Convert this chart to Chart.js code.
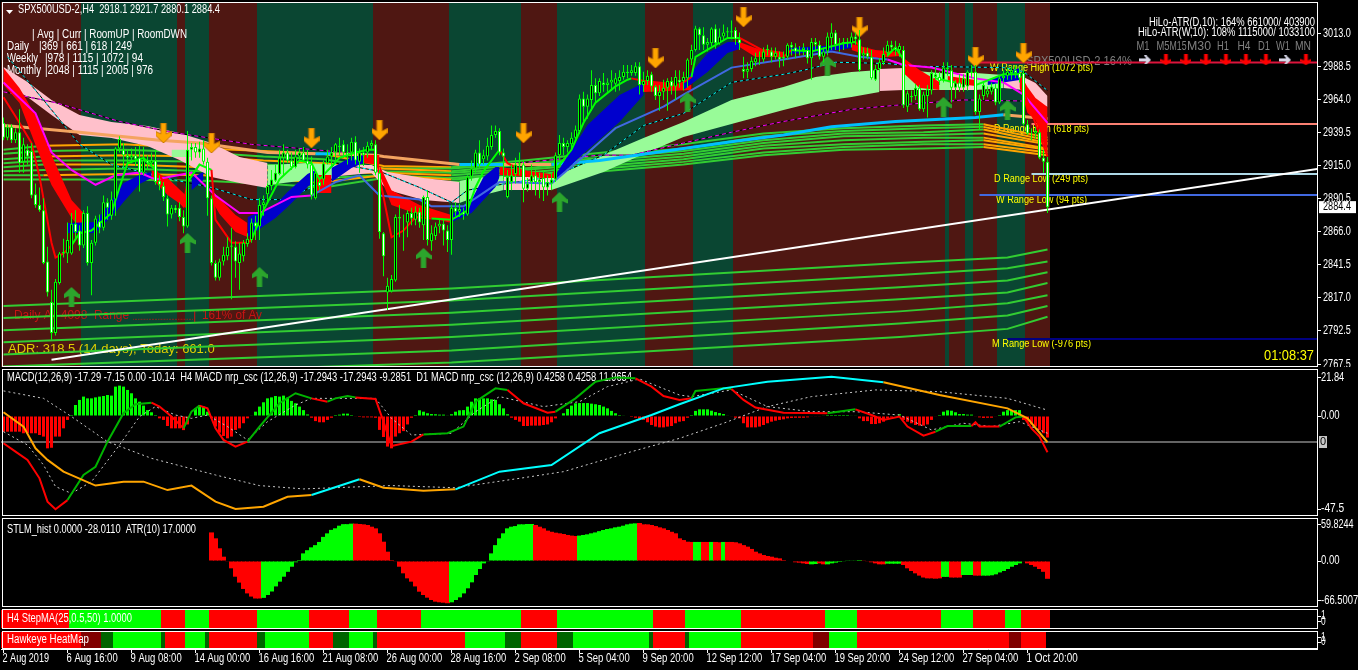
<!DOCTYPE html>
<html><head><meta charset="utf-8"><title>SPX500USD-2,H4</title>
<style>html,body{margin:0;padding:0;background:#000;overflow:hidden;width:1358px;height:670px}canvas{position:absolute;left:0}</style>
<script src="https://cdn.jsdelivr.net/npm/chart.js@4/dist/chart.umd.js"></script>
</head><body>
<script>
// ---------- candles (4h bars) ----------
const opens=[2947,2936,2944,2934,2940,2918,2927,2926,2894,2886,2882,2844,2814,2791,2828,2850,2850,2850,2872,2867,2856,2880,2843,2858,2874,2869,2888,2878,2890,2928,2927,2923,2921,2923,2921,2910,2919,2917,2919,2904,2900,2891,2879,2884,2884,2877,2870,2927,2929,2925,2928,2918,2891,2843,2832,2844,2848,2855,2855,2843,2848,2857,2860,2873,2870,2886,2894,2900,2904,2909,2921,2925,2919,2914,2922,2925,2919,2916,2891,2903,2905,2917,2922,2925,2929,2931,2925,2925,2933,2918,2925,2925,2930,2931,2910,2865,2821,2822,2830,2877,2873,2873,2880,2875,2881,2871,2892,2859,2863,2870,2872,2867,2860,2884,2881,2881,2879,2907,2913,2925,2920,2922,2929,2938,2941,2925,2892,2903,2909,2916,2916,2898,2903,2908,2903,2906,2899,2902,2905,2923,2932,2929,2931,2936,2941,2965,2959,2964,2975,2969,2977,2975,2977,2976,2978,2981,2985,2984,2984,2989,2975,2978,2983,2974,2967,2970,2973,2978,2974,2979,2978,2980,2994,3001,3017,3012,3005,3006,3017,3006,3011,3015,3014,3016,3009,2987,2985,2987,2992,2995,2994,3001,3000,2996,2996,2995,2996,3005,3003,3000,3001,3001,2995,3007,3005,2996,3000,3010,3014,3005,3006,3007,3006,3011,3009,2997,2999,2996,2979,2987,2992,2999,3005,3003,3001,3001,2959,2967,2967,2973,2957,2967,2971,2981,2981,2979,2988,2986,2973,2977,2973,2974,2985,2985,2955,2967,2968,2970,2973,2962,2980,2982,2984,2986,2984,2984,2946,2939,2939,2940,2921,2918.1];
const highs=[2951,2946,2946,2943,2957,2936,2931,2932,2902,2899,2891,2855,2823,2831,2851,2861,2873,2880,2882,2871,2882,2885,2860,2878,2879,2893,2891,2896,2929,2937,2932,2927,2928,2929,2930,2929,2923,2925,2927,2908,2903,2893,2886,2886,2888,2882,2941,2932,2932,2933,2934,2921,2893,2845,2846,2855,2862,2869,2859,2858,2860,2865,2876,2878,2891,2893,2902,2912,2916,2927,2931,2927,2925,2927,2928,2929,2927,2922,2911,2906,2919,2927,2929,2932,2936,2934,2931,2936,2937,2928,2929,2933,2934,2934,2912,2866,2832,2834,2879,2886,2879,2882,2884,2885,2884,2893,2897,2871,2873,2875,2875,2871,2886,2888,2887,2884,2908,2919,2927,2934,2927,2936,2945,2945,2943,2928,2912,2916,2921,2925,2919,2906,2916,2912,2910,2912,2908,2910,2925,2938,2936,2934,2940,2945,2968,2970,2968,2986,2980,2980,2984,2980,2986,2984,2986,2990,2990,2990,2992,2992,2985,2986,2985,2975,2975,2979,2980,2981,2986,2986,2985,2995,3005,3019,3018,3018,3010,3018,3020,3017,3020,3018,3023,3018,3014,2996,2992,2996,2999,3000,3003,3005,3003,3003,3000,3000,3006,3007,3006,3004,3006,3003,3010,3010,3008,3003,3014,3021,3016,3010,3010,3010,3014,3014,3016,3003,3003,3001,2990,2995,3003,3008,3008,3008,3006,3004,2971,2971,2976,2975,2970,2975,2986,2988,2985,2992,2992,2990,2979,2983,2983,2986,2990,2990,2968,2978,2974,2977,2976,2982,2986,2988,2989,2990,2988,2986,2949,2943,2944,2942,2927,2921.7];
const lows=[2934,2934,2932,2932,2910,2910,2916,2891,2884,2881,2842,2818,2786,2789,2827,2847,2843,2849,2861,2852,2854,2841,2819,2856,2865,2867,2875,2875,2878,2925,2913,2917,2917,2915,2896,2908,2912,2915,2901,2897,2889,2870,2876,2880,2874,2865,2869,2919,2921,2921,2916,2878,2841,2830,2830,2841,2845,2816,2832,2823,2844,2855,2858,2860,2860,2878,2889,2897,2903,2908,2908,2917,2912,2913,2919,2918,2913,2890,2890,2897,2901,2916,2915,2919,2923,2921,2916,2919,2916,2910,2915,2921,2927,2908,2861,2833,2808,2821,2829,2862,2852,2862,2871,2871,2869,2860,2856,2852,2860,2865,2856,2851,2849,2878,2877,2875,2878,2904,2910,2913,2916,2919,2927,2936,2923,2905,2891,2897,2902,2908,2888,2896,2897,2893,2891,2889,2893,2897,2903,2919,2923,2925,2927,2933,2939,2948,2950,2956,2962,2967,2970,2970,2971,2970,2971,2979,2980,2982,2982,2968,2970,2975,2970,2964,2956,2964,2956,2968,2964,2973,2971,2973,2990,3000,3001,3001,3000,3004,3002,3005,3008,3010,3009,3005,3001,2980,2980,2985,2989,2990,2992,2997,2992,2994,2988,2989,2994,2997,2995,2997,2997,2991,2979,3001,2994,2992,2997,3001,3001,3000,3001,3003,3003,3005,2985,2994,2994,2979,2978,2985,2990,2996,2999,2997,2996,2958,2955,2962,2964,2956,2955,2951,2968,2979,2975,2977,2982,2962,2965,2970,2970,2971,2980,2953,2942,2964,2966,2968,2960,2961,2977,2979,2979,2980,2977,2945,2938,2934,2935,2920,2910,2880.1];
const closes=[2936,2944,2934,2940,2917,2931,2922,2893,2886,2882,2843,2821,2791,2829,2850,2851,2860,2872,2866,2856,2880,2843,2858,2876,2869,2888,2884,2890,2928,2935,2923,2921,2923,2920,2910,2919,2917,2919,2903,2901,2892,2879,2884,2882,2877,2870,2927,2929,2925,2928,2918,2891,2843,2832,2844,2849,2855,2856,2844,2850,2858,2861,2873,2870,2886,2888,2900,2905,2910,2921,2925,2919,2914,2922,2925,2919,2916,2893,2910,2900,2917,2922,2925,2931,2930,2925,2923,2933,2919,2925,2923,2930,2932,2910,2866,2848,2826,2831,2877,2876,2873,2880,2876,2881,2873,2892,2860,2865,2870,2872,2867,2860,2884,2881,2883,2879,2907,2913,2925,2916,2923,2930,2938,2941,2925,2922,2907,2908,2916,2917,2898,2902,2908,2903,2905,2899,2903,2905,2923,2932,2929,2932,2936,2942,2965,2959,2965,2975,2969,2978,2975,2977,2979,2980,2981,2985,2984,2986,2989,2975,2978,2982,2974,2967,2970,2973,2978,2974,2981,2977,2981,2994,3001,3017,3012,3005,3007,3017,3006,3011,3014,3014,3015,3009,3006,2985,2987,2993,2995,2995,3000,3002,2996,2999,2994,2996,3005,3003,3000,3001,3003,2995,3007,3005,2996,3000,3011,3014,3005,3006,3007,3006,3011,3009,2986,2999,2996,2980,2987,2992,2998,3005,3003,3001,3004,2960,2969,2966,2973,2957,2968,2972,2984,2983,2978,2988,2987,2973,2977,2973,2980,2985,2984,2955,2965,2975,2971,2974,2962,2980,2982,2985,2986,2984,2980,2946,2939,2939,2941,2921,2918,2884.4];
// background regimes: first bar of each run
const regimeStarts=[0,20,44,46,52,64,93,112,130,139,161,173,183,236,237,241,243,249,256];
const regimeKinds=['r','g','r','g','r','g','r','g','r','g','r','g','r','g','r','g','r','g','r'];
// slow fan (8 lines)
const fanIdx=[0,10,30,50,65,80,95,112,130,150,170,190,210,230,245,261];
const fan1=[2927,2930,2931,2928,2926,2924,2915,2914,2919,2925,2931,2939,2943,2945,2946,2936];
const fan2=[2924,2926,2927,2925,2922,2920,2913,2913,2917,2923,2928,2937,2941,2943,2944,2934];
const fan3=[2920,2922,2923,2922,2919,2917,2913,2911,2916,2921,2926,2934,2939,2940,2942,2932];
const fan4=[2917,2919,2919,2918,2916,2913,2911,2910,2913,2919,2924,2932,2937,2938,2939,2931];
const fan5=[2914,2916,2916,2914,2912,2910,2910,2908,2912,2917,2922,2930,2934,2936,2936,2928];
const fan6=[2911,2912,2913,2911,2908,2906,2908,2906,2910,2915,2920,2928,2931,2933,2934,2927];
const fan7=[2908,2908,2909,2908,2905,2903,2908,2905,2908,2913,2918,2925,2929,2931,2931,2925];
const fan8=[2905,2905,2905,2904,2902,2899,2906,2903,2906,2911,2916,2923,2927,2928,2929,2923];
// lower fan (7 lines)
const lowFanIdx=[0,112,224,251,261];
const low1=[2811,2824,2843,2847,2853];
const low2=[2802,2815,2834,2839,2844];
const low3=[2793,2806,2825,2830,2836];
const low4=[2784,2797,2816,2821,2828];
const low5=[2775,2788,2807,2813,2819];
const low6=[2766,2778,2798,2804,2811];
const low7=[2758,2769,2788,2794,2803];
// trend line and range levels
const trendIdx=[12,329], trendVal=[2771,2913];
const levelNames=['W Range High','D Range High','D Range Low','W Range Low','M Range Low'];
const levelStart=[243,257,257,244,251];
const levelVal=[2991.7,2946.1,2909,2893.4,2786.5];
// pink / light-green cloud segments
const cloudA_I=[0,6,12,19,27,36,44,52,59,66], cloudA_H=[2988.5,2977.3,2964,2952.8,2947.6,2944.7,2939.5,2932,2921.6,2917.2], cloudA_L=[2976.6,2966.2,2952.8,2938,2935.8,2929.8,2919.4,2906.8,2902.3,2898.6];
const cloudB_I=[66,76,84], cloudB_H=[2915.7,2917.2,2915.7], cloudB_L=[2900.9,2904.6,2906];
const cloudC_I=[84,92,96,105,114], cloudC_H=[2915.7,2915.7,2910.5,2906,2903], cloudC_L=[2907.5,2909.8,2897.1,2889.7,2887.5];
const cloudD_I=[114,118,125], cloudD_H=[2903.8,2906,2907.5], cloudD_L=[2887.5,2892,2897.1];
const cloudE_I=[125,137], cloudE_H=[2906.8,2906.8], cloudE_L=[2897.1,2897.1];
const cloudF_I=[137,150,160,170,182,195,203,212,219], cloudF_H=[2906,2923.1,2935.8,2947.6,2964,2973.6,2981,2984.8,2986.2], cloudF_L=[2897.1,2910.5,2923.9,2936.5,2946.1,2956.5,2962.5,2966.2,2969.9];
const cloudG_I=[219,225], cloudG_H=[2987,2987.7], cloudG_L=[2970.6,2971.4];
const cloudH_I=[225,237], cloudH_H=[2986.2,2983.3], cloudH_L=[2971.4,2971.4];
const cloudJ_I=[237,243], cloudJ_H=[2984,2984], cloudJ_L=[2971.4,2971.4];
const cloudK_I=[243,250], cloudK_H=[2984,2982.5], cloudK_L=[2971.4,2972.9];
const cloudM_I=[250,255,258,261], cloudM_H=[2983.3,2981,2976.6,2966.9], cloudM_L=[2972.9,2971.4,2961.7,2958.8];
const cloudN_I=[42,47], cloudN_H=[2927,2927], cloudN_L=[2921.6,2921.6];
// fast ribbon segments
const red1_I=[0,4,8,12,17,20], red1_H=[2987.7,2972.9,2952.8,2923.1,2889.7,2880.1], red1_L=[2975,2961.7,2930.6,2900.9,2876.4,2866];
const blue1_I=[16,23,28,30,34,37], blue1_H=[2872.6,2873.4,2893.4,2902.3,2908.3,2910.5], blue1_L=[2865.2,2865.2,2880.8,2888.2,2901.6,2906];
const red2_I=[37,41,46], red2_H=[2912,2906,2892], red2_L=[2906,2893.4,2883];
const blue2_I=[47,50], blue2_H=[2906,2910.5], blue2_L=[2897,2904.6];
const red3_I=[52,54,58,61], red3_H=[2897,2891,2878.6,2872.6], red3_L=[2889.7,2879.3,2866,2862.3];
const blue3_I=[61,68,71,76,78], blue3_H=[2877,2886,2895.7,2909,2912], blue3_L=[2862.3,2876.4,2884.5,2899.4,2904.6];
const redS_I=[78,82], redS_H=[2908.3,2908.3], redS_L=[2894.9,2894.9];
const blue3b_I=[82,87,90], blue3b_H=[2913.5,2921.6,2923.1], blue3b_L=[2903,2913.5,2917.2];
const redT_I=[90,94], redT_H=[2923.1,2923.1], redT_L=[2917.2,2915.7];
const red4_I=[94,97,104,112], red4_H=[2915.7,2897,2886,2878.6], red4_L=[2908.3,2886,2878.6,2872.6];
const blue4_I=[112,117,120,123,124], blue4_H=[2878.6,2889.7,2906.8,2914.2,2914.2], blue4_L=[2873.4,2880.1,2889.7,2899.4,2906.8];
const red5_I=[124,135,138], red5_H=[2914.2,2909.8,2908.3], red5_L=[2908.3,2906,2906];
const blue5_I=[138,146,154,160], blue5_H=[2908.3,2945.4,2967.7,2976.6], blue5_L=[2904.6,2926.8,2947.6,2967.7];
const red6_I=[160,172], red6_H=[2978.8,2975], red6_L=[2969.9,2971.4];
const blue6_I=[170,176,181,184], blue6_H=[2977.3,2998.9,3007,3007], blue6_L=[2971.4,2984.8,2998.9,3001.8];
const red7_I=[184,188,195], red7_H=[3007,3002.6,2999.6], red7_L=[3003.3,2995.9,2995.9];
const blue7_I=[196,205,212], blue7_H=[3002.6,3004,3006.3], blue7_L=[2998,2999.6,3002.6];
const red8_I=[212,218,224], red8_H=[3005.5,3001,2999.6], red8_L=[3001,2995.1,2996.6];
const red9_I=[225,229,234], red9_H=[2995.1,2986.2,2977.3], red9_L=[2984,2972.9,2971.4];
const red10_I=[236,243], red10_H=[2981.8,2978.8], red10_L=[2977.3,2975];
const blue8_I=[246,254], blue8_H=[2978.8,2987.7], blue8_L=[2975,2978.8];
const red11_I=[254,256,258,261], red11_H=[2984,2973.6,2965.4,2958.8], red11_L=[2973.6,2954.3,2949.1,2923.1];
// moving averages
const fastIdx=[0,4,7,9,12,13,15,17,19,22,27,29,31,35,38,41,45,46,49,52,53,57,61,62,65,69,74,77,79,84,88,91,93,94,97,100,103,107,112,116,118,120,124,126,130,137,138,142,145,148,153,156,157,162,167,170,172,173,177,181,184,191,195,197,202,206,210,213,215,219,221,223,225,228,231,233,238,243,250,254,255,261];
const fastVal=[2966,2947,2932,2907,2858,2847,2850,2856,2865,2867,2880,2899,2917,2921,2912,2899,2885,2903,2916,2912,2875,2858,2858,2860,2882,2905,2919,2917,2905,2921,2925,2927,2927,2907,2862,2867,2877,2876,2875,2882,2899,2911,2927,2917,2911,2907,2912,2927,2947,2962,2974,2979,2980,2977,2973,2977,2981,2996,3003,3010,3010,2999,2996,3001,3000,3003,3006,3007,3001,2996,2997,3003,2994,2981,2973,2980,2977,2975,2983,2983,2971,2922];
const fastRuns=[[0,'#ff0000'],[17,'#00ff00'],[38,'#ff0000'],[46,'#00ff00'],[52,'#ff0000'],[62,'#00ff00'],[93,'#ff0000'],[107,'#00ff00'],[124,'#ff0000'],[138,'#00ff00'],[157,'#ff0000'],[172,'#00ff00'],[184,'#ff0000'],[197,'#00ff00'],[213,'#ff0000'],[221,'#00ff00'],[225,'#ff0000'],[233,'#00ff00'],[238,'#ff0000'],[243,'#00ff00'],[254,'#ff0000']];
const midIdx=[0,8,12,17,23,28,34,38,47,53,59,64,72,77,83,89,94,104,107,115,124,137,145,153,165,170,182,195,207,214,221,225,232,243,250,255,261];
const midVal=[2977,2954,2925,2912,2901,2908,2910,2905,2910,2893,2880,2880,2892,2893,2903,2908,2893,2890,2885,2885,2903,2902,2922,2943,2959,2968,2988,2994,3000,2996,2994,2990,2988,2980,2977,2968,2947];
const midRuns=[[0,'#ff00ff'],[77,'#4169e1'],[221,'#ff00ff']];
const dashCyanIdx=[1,10,19,27,42,52,62,70,77,83,94,104,112,116,126,137,150,160,170,182,195,200,208,221,228,250,255,261];
const dashCyanVal=[2996,2964,2931,2916,2905,2899,2890,2890,2899,2917,2911,2899,2888,2897,2902,2907,2923,2945,2954,2977,2983,2986,2992,2991,2989,2988,2985,2971];
const dashMagIdx=[0,13,29,42,62,78,99,111,125,149,157,170,182,195,212,223,240,258];
const dashMagVal=[2970,2962,2948,2940,2931,2927,2921,2917,2916,2923,2923,2932,2940,2948,2957,2960,2964,2963];
const slowIdx=[0,8,19,39,49,66,78,82,93,95,114,125,137,149,170,182,195,207,223,243,250,261];
const slowVal=[2945,2943,2940,2934,2932,2925,2924,2924,2923,2922,2916,2916,2916,2919,2928,2933,2938,2944,2948,2951,2953,2950];
const slowRuns=[[0,'#f4a460'],[78,'#00bfff'],[82,'#f4a460'],[114,'#00bfff'],[125,'#f4a460'],[137,'#00bfff'],[250,'#f4a460']];
// signal arrows
const downIdx=[40,52,77,94,130,163,185,214,243,255];
const downVal=[2939.5,2932,2935.7,2941.7,2939.5,2995,3025.6,3018,2995.9,2998.8];
const upIdx=[17,46,64,105,139,171,206,235,251];
const upVal=[2817.7,2857.8,2832.5,2846.7,2888.2,2962.5,2989.2,2958.8,2956.5];
// multi-timeframe row
const tfNames=['M1','M5','M15','M30','H1','H4','D1','W1','MN'];
const tfState=['flat','down','down','down','down','down','down','flat','down'];
const tfIdx=[285.4,290.6,295.6,300.6,305.6,310.6,315.6,320.4,325.6];
const tfVal=2993.7;
// price axis
const priceTicks=[3013,2988.5,2964,2939.5,2915,2890.5,2866,2841.5,2817,2792.5,2767.5];
// time axis
const timeTickIdx=[0,16,32,48,64,80,96,112,128,144,160,176,192,208,224,240,256];
const timeLabels=['2 Aug 2019','6 Aug 16:00','9 Aug 08:00','14 Aug 00:00','16 Aug 16:00','21 Aug 08:00','26 Aug 00:00','28 Aug 16:00','2 Sep 08:00','5 Sep 04:00','9 Sep 20:00','12 Sep 12:00','17 Sep 04:00','19 Sep 20:00','24 Sep 12:00','27 Sep 04:00','1 Oct 20:00'];
// MACD panel
const macdHist=[-8,-8,-8,-8,-8,-8.8,-8.8,-8.8,-8.8,-9.7,-10.5,-16.5,-16.2,-10.5,-10.5,-6.3,-2,0.5,5.6,8.2,9.9,9,9,9.5,9.9,10.2,10.7,10.4,15,15.5,15,13.3,11.6,9,7.3,5.3,3,1.9,0.5,-1.2,-2,-5.1,-6.3,-6.3,-6.3,-7.2,-4.3,-0.3,3.9,5.6,4.8,2.2,-1.2,-5.4,-8.5,-10.2,-11.4,-10.5,-7.1,-6.3,-3.7,-1.2,0.2,2.2,4.8,7,9,9.5,10.2,9.9,10.4,9.4,7.7,6.5,4.8,3,0.8,-0.9,-2.6,-3.2,-3.2,-2,-0.9,0.5,0.7,1.2,1.2,0.5,-0.3,-0.5,-0.7,-0.7,-0.7,-0.9,-7.1,-10.7,-15.6,-16.5,-10.5,-8.8,-7.7,-4.3,-0.9,0.5,2.9,2.2,1.4,1,0.9,0.7,0.7,0.2,0.9,2.2,2.9,3,4.8,7.3,9,9,9,9,8.5,8.2,6,3.9,0.9,-0.9,-2,-2.9,-5.1,-5.1,-4.9,-4.9,-4.9,-4.6,-4.3,-3.2,-1.2,0,1.4,3.6,5.3,6.5,6.6,6.6,6.6,6.3,6,5.6,4.8,3.9,2.6,1.4,0.5,0.2,0,-0.5,-0.9,-1.5,-2,-3.2,-4.6,-5.4,-5.8,-5.8,-5.4,-5.1,-3.7,-2.9,-2.6,-0.9,0.5,2.6,3.4,3.4,3.4,2.7,2,1.5,1,0.3,-0.3,-0.9,-1.2,-3.7,-5.8,-5.8,-5.8,-5.4,-4.6,-3.7,-2.9,-2.4,-2,-1.7,-1.2,-1,-0.9,-0.9,-0.9,-0.7,-0.3,-0.2,-0.2,0.2,0.5,0.5,0.5,0.5,0.5,0.5,0.3,0.2,-1.2,-2.6,-2.6,-4.1,-4.1,-3.7,-2.9,-1.2,-0.7,0.2,0.9,-2,-2.9,-3.7,-4.6,-4.9,-4.9,-4.3,-2,-0.3,0.5,2.2,2.9,2.7,1.9,1,1,0.7,0.7,-0.3,-0.7,-1,-0.9,-0.9,-0.3,0.5,2.2,3,3,3,3,-2,-2.9,-4.3,-5.4,-7.1,-8.8,-11];
const macdFastIdx=[0,3,6,9,11,13,16,20,23,26,30,33,37,39,42,45,47,49,51,53,55,58,61,64,69,73,77,81,83,86,88,93,95,97,102,105,111,115,118,123,126,130,136,138,143,148,153,158,162,165,169,172,173,180,182,185,188,195,206,213,217,220,224,226,230,233,236,242,243,244,249,253,255,257,259,261];
const macdFastVal=[-13.9,-18.2,-22.4,-31.8,-43.7,-47.6,-42.9,-30.1,-25.9,-13.1,1.4,6,6.8,4.8,-0.3,-6.3,2.2,5.3,3.9,-6.3,-12.2,-15.6,-13.1,-5.4,6.5,11.6,9,7.3,9,10.2,9.5,8.7,-2.9,-15.3,-13.1,-9.4,-8.8,-5.4,7.3,14.1,13.3,6.5,1.7,2.2,9,17.5,19.7,19.2,15,10.2,8.2,9,12.8,14.1,13.8,8.2,4.3,1.7,1.4,3.4,0.5,-2,-0.3,-5.4,-10,-8,-5.1,-5.1,-3.2,-5.4,-5.4,-0.7,-0.3,-6.3,-10.5,-18.5];
const macdFastRuns=[[0,'#ff0000'],[16,'#00b400'],[37,'#ff0000'],[45,'#00b400'],[49,'#ff0000'],[61,'#00b400'],[77,'#ff0000'],[81,'#00b400'],[88,'#ff0000'],[105,'#00b400'],[126,'#ff0000'],[138,'#00b400'],[158,'#ff0000'],[172,'#00b400'],[182,'#ff0000'],[206,'#00b400'],[213,'#ff0000'],[233,'#00b400'],[242,'#ff0000'],[249,'#00b400'],[255,'#ff0000']];
const macdSlowIdx=[0,5,8,11,15,23,30,35,41,47,53,58,65,71,77,89,95,105,113,124,137,149,162,169,180,191,207,220,234,251,256,261];
const macdSlowVal=[1.9,-5.4,-16.5,-22.4,-28.4,-35.5,-33.5,-33.5,-37.8,-35.5,-43.7,-47.4,-46.3,-41.2,-40.3,-32.3,-36.6,-38.1,-37.4,-28.4,-25,-8.8,0.5,6,14.1,17.5,20,17.2,10.7,3.9,-1.2,-13.4];
const macdSlowRuns=[[0,'#ffa500'],[77,'#00ffff'],[89,'#ffa500'],[113,'#00ffff'],[220,'#ffa500']];
const macdDot1Idx=[0,10,17,26,37,53,64,75,97,113,129,140,157,169,180,191,202,218,234,251,261];
const macdDot1Val=[12.8,9,-0.3,-13.1,-21.6,-30.1,-35.5,-37.2,-35.5,-36.6,-31.8,-28.4,-18.2,-11.4,-3.7,4.8,9.9,13.3,12.4,9,3];
const macdDot2Idx=[0,6,10,13,17,22,29,34,38,43,47,51,56,61,66,73,77,86,93,97,102,112,118,124,135,144,151,159,169,172,182,191,202,213,224,232,240,247,254,261];
const macdDot2Val=[-8,-14.8,-25,-36,-39.5,-33.5,-14.8,-0.3,4.8,0.5,-1.2,0.5,-5.4,-12.2,-2.9,5.6,9,9,9,-1.2,-9.7,-8.8,2.2,9.9,4.8,7.3,15,18.9,10.7,9.9,13.3,4.8,2.2,2.2,0.5,-7.1,-3.7,-5.4,-2.9,-8.8];
const macdZeroLine=-13.27;
const macdTickVals=[19.8,0,-47.5], macdTickText=['21.84','0.00','-47.5'];
// STLM panel
const stlmStart=52;
const stlmVals=[45,35.7,20,6.8,-1,-11.5,-24.7,-34,-44,-51,-56,-59,-59,-58,-53.5,-48,-40,-32.5,-24.7,-17,-9,-2,1.6,12,17,21.5,25,30,38,43.5,49,51.5,55.6,58,58,58.8,58.8,58.3,57.7,56.7,54,51.4,43.6,30.4,14.7,1.6,-1,-9,-19.4,-27.3,-32.5,-40,-48.3,-53.5,-57.7,-61.4,-64,-65,-65.6,-66.5,-65,-61.4,-57.2,-51,-43,-33.6,-22,-12.6,-3.7,-1,12,25,35.7,43.6,51.4,54,55,57.7,57.7,58.3,58.3,56.7,54,51.4,47.8,46,44.6,43.6,42.5,41,40,39.4,40,41,42,43.6,45,47,48.8,50.4,51.4,53,54,55.6,57.7,58.8,59.3,59.8,57.7,57.7,56.7,55,53,51.4,48.8,46,43.6,35.7,33,30.4,30,30,30,30,30,30,30,29.5,30,30,30,29.5,27.8,25,22.6,19,14.7,12,9.4,7.9,6.8,5.2,4.2,1.6,0,-0.8,-2,-2.6,-3.7,-4.7,-5.2,-4.7,-3.7,-5.2,-5.2,-3.7,-2.6,-1.6,-1,0.5,1,1,1.6,0.5,-1,-2,-3.7,-5.2,-5.2,-4.2,-4.2,-4.2,-4.2,-6.3,-11.5,-15.7,-19.4,-23,-26,-27.3,-27.3,-27.8,-27.3,-25,-25,-26,-26,-26,-22,-22,-22,-23,-23,-23,-23,-22.5,-21,-18,-15.7,-12.6,-9,-6.3,-3.7,-1,-3.7,-6.3,-9,-12.6,-17,-28];
const stlmRuns=[[52,'#ff0000'],[65,'#00ff00'],[88,'#ff0000'],[112,'#00ff00'],[133,'#ff0000'],[144,'#00ff00'],[159,'#ff0000'],[173,'#00ff00'],[175,'#ff0000'],[177,'#00ff00'],[178,'#ff0000'],[180,'#00ff00'],[181,'#ff0000'],[202,'#00ff00'],[204,'#ff0000'],[206,'#00ff00'],[215,'#ff0000'],[221,'#00ff00'],[225,'#ff0000'],[235,'#00ff00'],[237,'#ff0000'],[240,'#00ff00'],[243,'#ff0000'],[245,'#00ff00'],[255,'#ff0000']];
const stlmTickVals=[56.7,0,-62.8], stlmTickText=['59.8244','0.00','-66.5007'];
// StepMA and HeatMap state runs: [first bar, colour]
const stepRuns=[[0,'#ff0000'],[17,'#00ff00'],[40,'#ff0000'],[46,'#00ff00'],[52,'#ff0000'],[64,'#00ff00'],[77,'#ff0000'],[87,'#00ff00'],[94,'#ff0000'],[105,'#00ff00'],[130,'#ff0000'],[139,'#00ff00'],[163,'#ff0000'],[171,'#00ff00'],[185,'#ff0000'],[206,'#00ff00'],[214,'#ff0000'],[235,'#00ff00'],[243,'#ff0000'],[251,'#00ff00'],[255,'#ff0000']];
const heatRuns=[[0,'#ff0000'],[20,'#800000'],[25,'#006400'],[28,'#00ff00'],[40,'#006400'],[41,'#ff0000'],[46,'#00ff00'],[51,'#006400'],[52,'#ff0000'],[64,'#006400'],[66,'#00ff00'],[77,'#ff0000'],[83,'#006400'],[87,'#00ff00'],[93,'#006400'],[94,'#ff0000'],[116,'#00ff00'],[126,'#006400'],[130,'#ff0000'],[139,'#006400'],[143,'#00ff00'],[162,'#006400'],[163,'#ff0000'],[171,'#006400'],[172,'#00ff00'],[185,'#ff0000'],[203,'#800000'],[207,'#00ff00'],[214,'#ff0000'],[252,'#800000'],[255,'#ff0000']];

// ---------- helpers ----------
const FONT='"Liberation Sans",Arial,sans-serif';
const CHAR_W=4.65; // axis and legend text is condensed to the width of the original terminal font
const BARS=closes.length, XMIN=-0.625, XMAX=XMIN+329;
const runColor=(runs,i)=>{let c=runs[0][1];for(const r of runs){if(i>=r[0])c=r[1];else break;}return c;};
const pts=(ix,v)=>ix.map((x,k)=>({x,y:v[k]}));
const line=(ix,v,color,w,extra)=>Object.assign({type:'line',data:pts(ix,v),borderColor:color,borderWidth:w,pointRadius:0,tension:0,fill:false},extra||{});
const runLine=(ix,v,runs,w)=>line(ix,v,runs[0][1],w,{segment:{borderColor:c=>runColor(runs,c.p0.parsed.x)}});
const band=(ix,hi,lo,color)=>[
  line(ix,hi,'rgba(0,0,0,0)',0,{fill:{target:'+1',above:color,below:color},backgroundColor:color}),
  line(ix,lo,'rgba(0,0,0,0)',0)];
const allBars=[...Array(BARS).keys()];

function arrowCanvas(kind,w,h,color,edge){
  const c=document.createElement('canvas');c.width=w;c.height=h;const g=c.getContext('2d');
  const m=w/2,s=Math.max(1.5,w*0.17);
  g.beginPath();
  if(kind==='down'){g.moveTo(m-s,0);g.lineTo(m+s,0);g.lineTo(m+s,h*0.55);g.lineTo(w,h*0.42);g.lineTo(w,h*0.62);g.lineTo(m,h);g.lineTo(0,h*0.62);g.lineTo(0,h*0.42);g.lineTo(m-s,h*0.55);}
  else if(kind==='up'){g.moveTo(m-s,h);g.lineTo(m+s,h);g.lineTo(m+s,h*0.45);g.lineTo(w,h*0.58);g.lineTo(w,h*0.38);g.lineTo(m,0);g.lineTo(0,h*0.38);g.lineTo(0,h*0.58);g.lineTo(m-s,h*0.45);}
  else{g.moveTo(0,h/2-1.5);g.lineTo(w*0.6,h/2-1.5);g.lineTo(w*0.4,0);g.lineTo(w*0.6,0);g.lineTo(w,h/2);g.lineTo(w*0.6,h);g.lineTo(w*0.4,h);g.lineTo(w*0.6,h/2+1.5);g.lineTo(0,h/2+1.5);}
  g.closePath();g.fillStyle=color;g.fill();
  if(edge){g.strokeStyle=edge;g.lineWidth=1;g.stroke();}
  return c;
}

function drawTexts(chart,items,top){
  const g=chart.ctx;g.save();g.textBaseline='middle';
  for(const t of items){
    g.font=(t.size||12)+'px '+(t.family||FONT);g.fillStyle=t.color||'#ffffff';g.textAlign=t.align||'left';
    if(t.w)g.fillText(t.text,t.x,t.y-top,t.w);else g.fillText(t.text,t.x,t.y-top);
  }
  g.restore();
}
// tick labels come from the scales' own ticks, condensed with maxWidth
function drawAxisLabels(chart,opt){
  const g=chart.ctx,sy=chart.scales.y,sx=chart.scales.x;
  g.save();g.fillStyle='#ffffff';g.font='12px '+FONT;g.textBaseline='middle';g.textAlign='left';
  sy.ticks.forEach((t,i)=>{g.fillText(t.label,opt.labelX||1321,sy.getPixelForTick(i),t.label.length*CHAR_W);});
  if(opt.showX)sx.ticks.forEach((t,i)=>{g.fillText(t.label,sx.getPixelForTick(i)-1,27.5,t.label.length*CHAR_W);});
  g.restore();
}
function panel(top,height,datasets,opt){
  const cv=document.createElement('canvas');cv.width=1358;cv.height=height;cv.style.top=top+'px';document.body.appendChild(cv);
  const n=datasets.length;datasets.forEach((d,k)=>{d.order=n-k;});
  const y={position:'right',min:opt.min,max:opt.max,
    afterFit:s=>{s.width=41;s.paddingTop=0;s.paddingBottom=0;},
    afterBuildTicks:s=>{s.ticks=opt.ticks.map(v=>({value:v}));},
    ticks:{display:false,autoSkip:false,callback:(v,i)=>opt.tickText?opt.tickText[i]:v.toFixed(1)},
    grid:{drawOnChartArea:false,color:'#ffffff',tickLength:4},border:{color:'#ffffff'}};
  const x={type:'linear',min:XMIN,max:XMAX,display:!!opt.showX,offset:false,grid:{offset:false}};
  if(opt.showX){Object.assign(x,{
    afterFit:s=>{s.height=21;s.paddingLeft=0;s.paddingRight=0;},
    afterBuildTicks:s=>{s.ticks=timeTickIdx.map(v=>({value:v}));},
    ticks:{display:false,autoSkip:false,maxRotation:0,minRotation:0,callback:(v,i)=>timeLabels[i]},
    grid:{offset:false,drawOnChartArea:false,color:'#ffffff',tickLength:4},border:{color:'#ffffff'}});}
  const frame={id:'frame',
    afterDatasetDraw(chart,args){if(args.index===0&&opt.texts)drawTexts(chart,opt.texts,top);},
    afterDraw(chart){
      const g=chart.ctx,a=chart.chartArea;g.save();g.strokeStyle='#ffffff';g.lineWidth=1;
      g.strokeRect(2.5,a.top+0.5,a.right-2,a.bottom-a.top-1);g.restore();
      drawAxisLabels(chart,opt);
      if(opt.afterDraw)opt.afterDraw(chart,g);
    }};
  return new Chart(cv,{type:'bar',data:{datasets},plugins:[frame],options:{responsive:false,animation:false,devicePixelRatio:1,
    parsing:{xAxisKey:'x',yAxisKey:'y'},events:[],layout:{autoPadding:false,padding:{left:1,right:0,top:0,bottom:0}},
    plugins:{legend:{display:false},tooltip:{enabled:false},title:{display:false}},scales:{x,y}}});
}

// ---------- main price panel ----------
const mainTop=2,mainBottom=367;
const mainMax=3036.7,mainMin=2765.7;
const regimeColor=i=>{let k='r';regimeStarts.forEach((s,j)=>{if(i>=s)k=regimeKinds[j];});return k==='r'?'#4f1712':'#0a4632';};
const PINK='#ffc0cb',LG='#98fb98',RED='#ff0000',BLUE='#0000cd',GREEN='#32cd32',ORANGE='#ffa500';
const levelColors=['#dc143c','#fa8072','#add8e6','#4169e1','#000080'];
const fanSets=[fan1,fan2,fan3,fan4,fan5,fan6,fan7,fan8];
const main=[];
main.push({type:'bar',grouped:false,data:allBars.map(i=>({x:i,y:[mainMin,mainMax]})),backgroundColor:allBars.map(regimeColor),barThickness:5,borderWidth:0,inflateAmount:0});
[low1,low2,low3,low4,low5,low6,low7].forEach(v=>main.push(line(lowFanIdx,v,GREEN,2)));
fanSets.forEach((v,k)=>main.push(line(fanIdx,v,GREEN,2,{segment:{borderColor:c=>{const i=c.p0.parsed.x;return (i>=245||(k%2===0&&i>=10&&i<112))?ORANGE:GREEN;}}})));
levelVal.forEach((v,k)=>main.push(line([levelStart[k],329],[v,v],levelColors[k],2)));
main.push(line(trendIdx,trendVal,'#ffffff',2));
[[cloudA_I,cloudA_H,cloudA_L,PINK],[cloudN_I,cloudN_H,cloudN_L,LG],[cloudB_I,cloudB_H,cloudB_L,LG],[cloudC_I,cloudC_H,cloudC_L,PINK],[cloudD_I,cloudD_H,cloudD_L,LG],[cloudE_I,cloudE_H,cloudE_L,PINK],[cloudF_I,cloudF_H,cloudF_L,LG],[cloudG_I,cloudG_H,cloudG_L,PINK],[cloudH_I,cloudH_H,cloudH_L,LG],[cloudJ_I,cloudJ_H,cloudJ_L,PINK],[cloudK_I,cloudK_H,cloudK_L,LG],[cloudM_I,cloudM_H,cloudM_L,PINK]].forEach(b=>main.push(...band(b[0],b[1],b[2],b[3])));
main.push(line(dashMagIdx,dashMagVal,'#000000',1));
main.push(line(dashMagIdx,dashMagVal,'#ff00ff',1,{borderDash:[4,3]}));
main.push(line(dashCyanIdx,dashCyanVal,'#000000',1));
main.push(line(dashCyanIdx,dashCyanVal,'#00ffff',1,{borderDash:[3,3]}));
main.push(runLine(slowIdx,slowVal,slowRuns,3));
[[red1_I,red1_H,red1_L,RED],[blue1_I,blue1_H,blue1_L,BLUE],[red2_I,red2_H,red2_L,RED],[blue2_I,blue2_H,blue2_L,BLUE],[red3_I,red3_H,red3_L,RED],[blue3_I,blue3_H,blue3_L,BLUE],[redS_I,redS_H,redS_L,RED],[blue3b_I,blue3b_H,blue3b_L,BLUE],[redT_I,redT_H,redT_L,RED],[red4_I,red4_H,red4_L,RED],[blue4_I,blue4_H,blue4_L,BLUE],[red5_I,red5_H,red5_L,RED],[blue5_I,blue5_H,blue5_L,BLUE],[red6_I,red6_H,red6_L,RED],[blue6_I,blue6_H,blue6_L,BLUE],[red7_I,red7_H,red7_L,RED],[blue7_I,blue7_H,blue7_L,BLUE],[red8_I,red8_H,red8_L,RED],[red9_I,red9_H,red9_L,RED],[red10_I,red10_H,red10_L,RED],[blue8_I,blue8_H,blue8_L,BLUE],[red11_I,red11_H,red11_L,RED]].forEach(b=>main.push(...band(b[0],b[1],b[2],b[3])));
main.push(runLine(midIdx,midVal,midRuns,2));
main.push(runLine(fastIdx,fastVal,fastRuns,2));
main.push({type:'line',showLine:false,data:pts(upIdx,upVal),pointStyle:arrowCanvas('up',16,20,'#2ca52c'),pointRadius:8});
main.push({type:'line',showLine:false,data:pts(downIdx,downVal),pointStyle:arrowCanvas('down',16,20,'#ffa500','#c87800'),pointRadius:8});
main.push({type:'bar',grouped:false,data:allBars.map(i=>({x:i,y:[lows[i],highs[i]]})),backgroundColor:'#00ff00',barThickness:1,borderWidth:0,inflateAmount:0});
main.push({type:'bar',grouped:false,data:allBars.map(i=>({x:i,y:[opens[i],closes[i]]})),backgroundColor:allBars.map(i=>closes[i]<opens[i]?'#ffffff':'#000000'),borderColor:'#00ff00',borderWidth:1,borderSkipped:false,barThickness:3,inflateAmount:0});
const tfDown=tfIdx.filter((x,k)=>tfState[k]==='down'), tfFlat=tfIdx.filter((x,k)=>tfState[k]==='flat');
main.push({type:'line',showLine:false,data:tfDown.map(x=>({x,y:tfVal})),pointStyle:arrowCanvas('down',11,11,'#ff0000'),pointRadius:6});
main.push({type:'line',showLine:false,data:tfFlat.map(x=>({x,y:tfVal})),pointStyle:arrowCanvas('right',12,9,'#d8d8e8'),pointRadius:6});

const SANS=FONT;
const YEL='#ffff00';
const tfCenters=[1143,1163,1178,1199,1223,1244,1264,1283,1303];
const tfWidths=[13,13,17,24,12,13,12,14,16];
const mainTexts=[
 {text:'SPX500USD-2,H4  2918.1 2921.7 2880.1 2884.4',x:18,y:10,w:202},
 {text:'| Avg | Curr | RoomUP | RoomDWN',x:32,y:35,w:155},
 {text:'Daily',x:7,y:47,w:22},{text:'|369 | 661 | 618 | 249',x:39,y:47,w:93},
 {text:'Weekly',x:7,y:59,w:31},{text:'|978 | 1115 | 1072 | 94',x:45,y:59,w:98},
 {text:'Monthly',x:7,y:71,w:34},{text:'|2048 | 1115 | 2005 | 976',x:45,y:71,w:108},
 {text:'Daily Av 4098  Range',x:14,y:315,size:13,family:SANS,color:'#c81414',w:115},
 {text:'.......................................',x:133,y:317,size:11,family:SANS,color:'#c81414',w:60},
 {text:'|',x:193,y:315,size:13,family:SANS,color:'#c81414'},
 {text:'161% of Av',x:202,y:315,size:13,family:SANS,color:'#c81414',w:60},
 {text:'ADR: 318.5 (14 days), Today: 661.0',x:8,y:349,size:13,family:SANS,color:'#e0d000',w:208},
 {text:'W Range High (1072 pts)',x:990,y:68,size:10,family:SANS,color:YEL,w:103},
 {text:'D Range High (618 pts)',x:994,y:129,size:10,family:SANS,color:YEL,w:95},
 {text:'D Range Low (249 pts)',x:994,y:179,size:10,family:SANS,color:YEL,w:94},
 {text:'W Range Low (94 pts)',x:996,y:200,size:10,family:SANS,color:YEL,w:91},
 {text:'M Range Low (-976 pts)',x:992,y:344,size:10,family:SANS,color:YEL,w:99},
 {text:'SPX500USD-2 164%',x:1026,y:61,size:13,family:SANS,color:'#808080',w:106},
 {text:'HiLo-ATR(D,10): 164% 661000/ 403900',x:1315,y:23,align:'right',w:166},
 {text:'HiLo-ATR(W,10): 108% 1115000/ 1033100',x:1315,y:33,align:'right',w:177},
 {text:'01:08:37',x:1264,y:356,size:14,family:SANS,color:YEL,w:50}
].concat(tfNames.map((t,k)=>({text:t,x:tfCenters[k],y:46,size:13,family:SANS,color:'#808080',align:'center',w:tfWidths[k]})));

panel(mainTop,mainBottom-mainTop,main,{min:mainMin,max:mainMax,ticks:priceTicks,texts:mainTexts,labelX:1323,afterDraw(chart,g){
  const ys=chart.scales.y.getPixelForValue(closes[BARS-1]);
  g.save();g.fillStyle='#ffffff';g.fillRect(1319,ys-6,37,12);
  g.fillStyle='#000000';g.font='12px '+FONT;g.textBaseline='middle';g.textAlign='left';
  g.fillText(closes[BARS-1].toFixed(1),1323,ys,28);
  // small triangle next to the title
  g.fillStyle='#ffffff';g.beginPath();g.moveTo(6,8);g.lineTo(13,8);g.lineTo(9.5,12);g.closePath();g.fill();
  g.restore();
}});

// ---------- MACD ----------
const macd=[];
macd.push(line([XMIN,XMAX],[macdZeroLine,macdZeroLine],'#c8c8c8',1));
macd.push({type:'bar',grouped:false,data:allBars.map(i=>({x:i,y:macdHist[i]})),backgroundColor:allBars.map(i=>macdHist[i]<0?'#ff0000':'#00ff00'),barThickness:3,borderWidth:0,inflateAmount:0});
macd.push(line(macdDot1Idx,macdDot1Val,'#c8c8c8',1,{borderDash:[2,3]}));
macd.push(line(macdDot2Idx,macdDot2Val,'#c8c8c8',1,{borderDash:[2,3]}));
macd.push(runLine(macdFastIdx,macdFastVal,macdFastRuns,2));
macd.push(runLine(macdSlowIdx,macdSlowVal,macdSlowRuns,2));
panel(369,147,macd,{min:-51.02,max:23.98,ticks:macdTickVals,tickText:macdTickText,
 texts:[{text:'MACD(12,26,9) -17.29 -7.15 0.00 -10.14  H4 MACD nrp_csc (12,26,9) -17.2943 -17.2943 -9.2851  D1 MACD nrp_csc (12,26,9) 0.4258 0.4258 11.9654',x:7,y:378,w:625}],
 afterDraw(chart,g){
  const ys=chart.scales.y.getPixelForValue(macdZeroLine);
  g.save();g.fillStyle='#c8c8c8';g.fillRect(1319,ys-6,8,12);g.fillStyle='#000000';g.font='11px '+FONT;g.textBaseline='middle';g.textAlign='center';g.fillText('0',1323,ys);g.restore();
 }});

// ---------- STLM ----------
panel(518,89,[{type:'bar',grouped:false,data:stlmVals.map((v,k)=>({x:stlmStart+k,y:v})),backgroundColor:stlmVals.map((v,k)=>runColor(stlmRuns,stlmStart+k)),barThickness:5,borderWidth:0,inflateAmount:0}],
 {min:-72.4,max:67.7,ticks:stlmTickVals,tickText:stlmTickText,texts:[{text:'STLM_hist 0.0000 -28.0110  ATR(10) 17.0000',x:7,y:530,w:189}]});

// ---------- StepMA ----------
panel(609,20,[{type:'bar',grouped:false,data:allBars.map(i=>({x:i,y:[-1,2]})),backgroundColor:allBars.map(i=>runColor(stepRuns,i)),barThickness:5,borderWidth:0,inflateAmount:0}],
 {min:-1.17,max:2.17,ticks:[1,0],tickText:['1','0'],texts:[{text:'H4 StepMA(25,0.5,50) 1.0000',x:7,y:619,w:125}]});

// ---------- HeatMap + time axis ----------
const heatBars=allBars.slice(0,261);
panel(631,39,[{type:'bar',grouped:false,data:heatBars.map(i=>({x:i,y:[-1.5,2.5]})),backgroundColor:heatBars.map(i=>runColor(heatRuns,i)),barThickness:5,borderWidth:0,inflateAmount:0}],
 {min:-1.75,max:2.75,ticks:[1,0],tickText:['1','0'],showX:true,texts:[{text:'Hawkeye HeatMap',x:7,y:640,w:82}]});
</script>
</body></html>
